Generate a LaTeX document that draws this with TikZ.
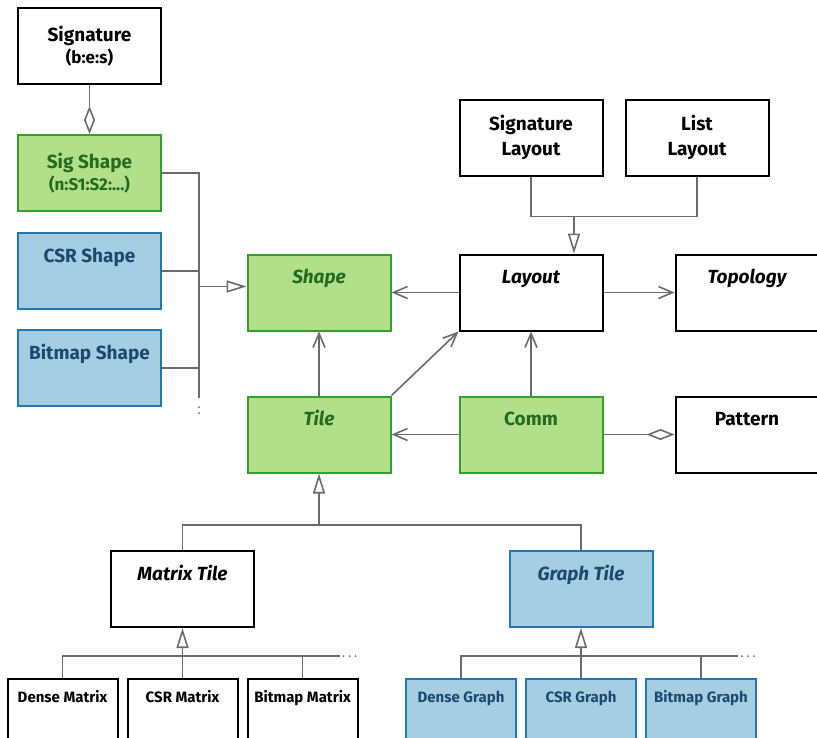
\documentclass[tikz,border=0pt]{standalone}
\usepackage{fontspec}
\setmainfont{Fira Sans}
\usepackage{xcolor}
\usepackage{tikz}
\usetikzlibrary{positioning, arrows.meta}
\definecolor{grnFill}{HTML}{B2DF8A}
\definecolor{grnLine}{HTML}{33A02C}
\definecolor{grnText}{HTML}{236B1E}
\definecolor{bluFill}{HTML}{A6CEE3}
\definecolor{bluLine}{HTML}{1F78B4}
\definecolor{bluText}{HTML}{1B4A6F}
\definecolor{wire}{HTML}{6B6B6B}
\tikzset{
    cls/.style={rectangle, draw=black, line width=2pt, fill=white, align=center, minimum width=143pt, minimum height=76pt, font=\bfseries\fontsize{19}{25}\selectfont},
    headed/.style={text height=22pt, text depth=40pt, inner ysep=7pt},
    leaf/.style={cls, minimum width=110pt, font=\bfseries\fontsize{15}{19}\selectfont, text height=16pt, text depth=46pt, inner ysep=7pt},
    grnBox/.style={draw=grnLine, fill=grnFill, text=grnText},
    bluBox/.style={draw=bluLine, fill=bluFill, text=bluText},
    line/.style={draw=wire, line width=1.6pt},
    inh/.style={line, -{Triangle[open, length=20pt, width=12pt]}},
    assoc/.style={line, -{Straight Barb[length=14pt, width=12pt]}},
    agg/.style={line, -{Diamond[open, length=28pt, width=11pt]}},
    dots/.style={draw=wire, line width=2pt, dash pattern=on 0pt off 6pt, line cap=round}
}
\begin{document}
\begin{tikzpicture}[x=1pt, y=-1pt]
        \useasboundingbox (0,0) rectangle (817,737);
        \clip (0,0) rectangle (817,737);

        % left column
        \node[cls] (Signature) at (89.5,46) {Signature\\[-3pt]{\fontsize{17}{20}\selectfont (b:e:s)}};
        \node[cls, grnBox, below=49pt of Signature] (SigShape) {Sig Shape\\[-3pt]{\fontsize{17}{20}\selectfont (n:S1:S2:...)}};
        \node[cls, headed, bluBox, below=20pt of SigShape] (CSRShape) {CSR Shape};
        \node[cls, headed, bluBox, below=19pt of CSRShape] (BitmapShape) {Bitmap Shape};

        % core classes
        \node[cls, headed, grnBox] (Shape) at (319,292.5) {\itshape Shape};
        \node[cls, headed, right=67pt of Shape] (Layout) {\itshape Layout};
        \node[cls, headed, right=71pt of Layout] (Topology) {\itshape Topology};
        \node[cls, above=77pt of Layout] (SigLayout) {Signature\\Layout};
        \node[cls, right=21pt of SigLayout] (ListLayout) {List\\Layout};
        \node[cls, headed, grnBox, below=64pt of Shape] (Tile) {\itshape Tile};
        \node[cls, headed, grnBox, below=64pt of Layout] (Comm) {Comm};
        \node[cls, headed, below=64pt of Topology] (Pattern) {Pattern};

        % tile kinds
        \node[cls, headed] (MatrixTile) at (182.5,589) {\itshape Matrix Tile};
        \node[cls, headed, bluBox] (GraphTile) at (581,589) {\itshape Graph Tile};
        \node[leaf] (DenseMatrix) at (62.5,717) {Dense Matrix};
        \node[leaf, right=8pt of DenseMatrix] (CSRMatrix) {CSR Matrix};
        \node[leaf, right=8pt of CSRMatrix] (BitmapMatrix) {Bitmap Matrix};
        \node[leaf, bluBox] (DenseGraph) at (461,717) {Dense Graph};
        \node[leaf, bluBox, right=8pt of DenseGraph] (CSRGraph) {CSR Graph};
        \node[leaf, bluBox, right=8pt of CSRGraph] (BitmapGraph) {Bitmap Graph};

        \coordinate (busBot) at (199,398);

        \draw[agg] (Signature) -- (SigShape);
        \draw[line] (SigShape.east) -| (busBot);
        \draw[line] (CSRShape.east) -- (CSRShape.east -| busBot);
        \draw[line] (BitmapShape.east) -- (BitmapShape.east -| busBot);
        \draw[inh] ([yshift=6pt]Shape.west -| busBot) -- ([yshift=6pt]Shape.west);
        \draw[dots] (busBot) ++(0,9) -- ++(0,12);

        \draw[line] (SigLayout.south) -- ++(0,40) coordinate (layBar) -| (ListLayout.south);
        \path (layBar) ++(43,0) coordinate (layDrop);
        \draw[inh] (layDrop) -- (layDrop |- Layout.north);

        \draw[assoc] (Layout) -- (Shape);
        \draw[assoc] (Layout) -- (Topology);
        \draw[assoc] (Tile) -- (Shape);
        \draw[assoc] (Tile.north east) -- (Layout.south west);
        \draw[assoc] (Comm) -- (Layout);
        \draw[assoc] (Comm) -- (Tile);
        \draw[agg] (Comm) -- (Pattern);

        \draw[line] (MatrixTile.north) -- ++(0,-25) coordinate (tileBar) -| (GraphTile.north);
        \draw[inh] (tileBar -| Tile.south) -- (Tile.south);

        % matrix leaves
        \draw[line] (DenseMatrix.north) -- ++(0,-22) -- ++(277,0) coordinate (mEnd);
        \draw[line] (BitmapMatrix.north) -- (BitmapMatrix.north |- mEnd);
        \draw[inh] (CSRMatrix.north) -- (MatrixTile.south);
        \draw[dots] (mEnd) ++(4,0) -- ++(12,0);

        % graph leaves
        \draw[line] (DenseGraph.north) -- ++(0,-22) -- ++(277,0) coordinate (gEnd);
        \draw[line] (BitmapGraph.north) -- (BitmapGraph.north |- gEnd);
        \draw[inh] (CSRGraph.north) -- (GraphTile.south);
        \draw[dots] (gEnd) ++(4,0) -- ++(12,0);
    \end{tikzpicture}
\end{document}
